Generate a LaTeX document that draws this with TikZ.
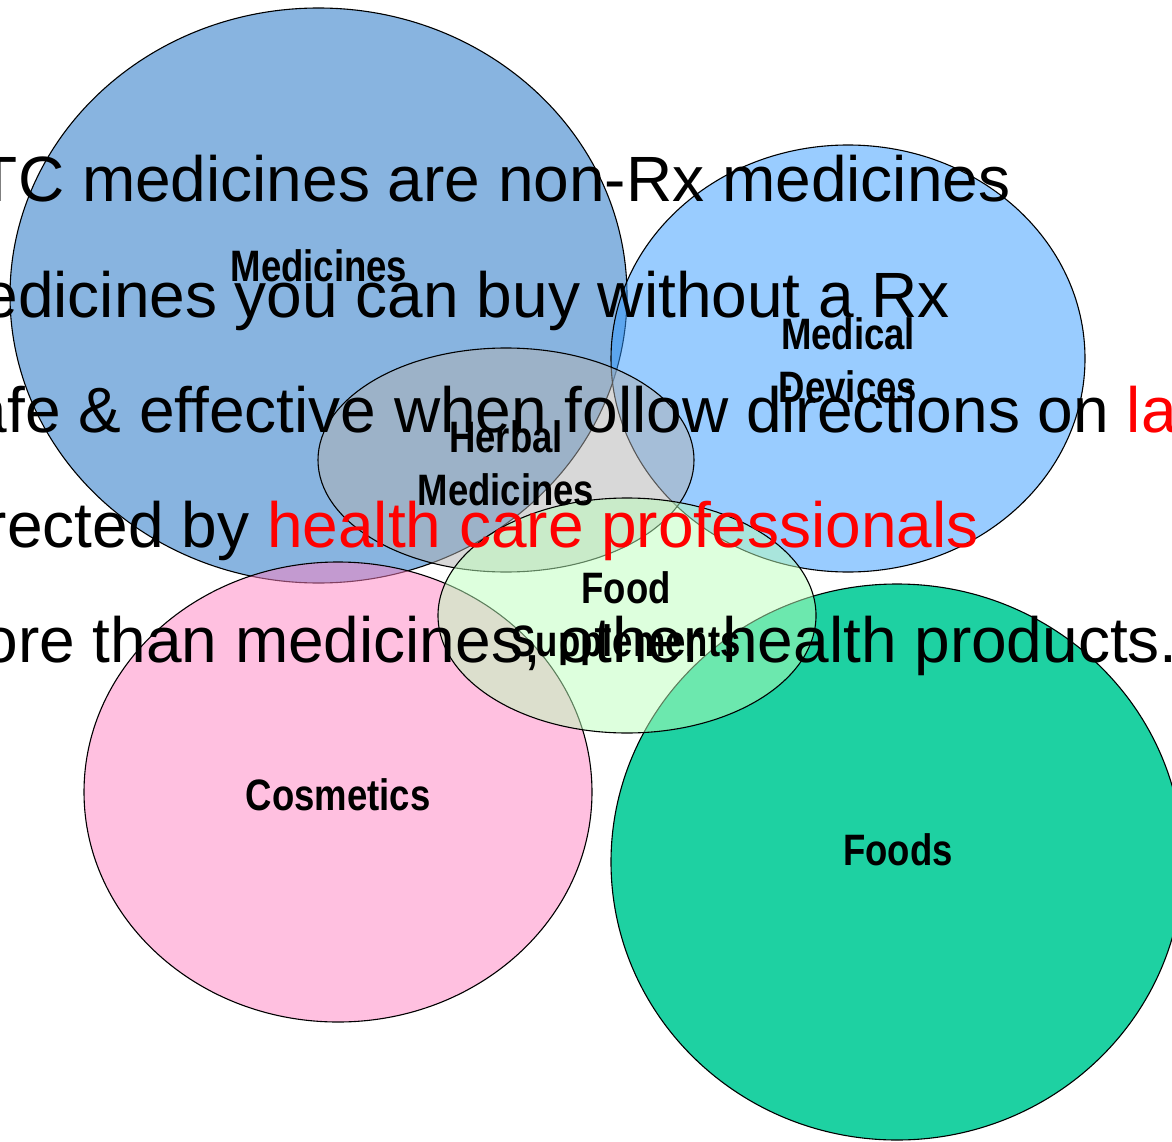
\documentclass[tikz,border=0pt]{standalone}
\usepackage{fontspec}
\setmainfont{Liberation Sans}
\newfontfamily\labelfont[FakeStretch=0.83]{Liberation Sans}
\usetikzlibrary{shapes.geometric}
\definecolor{medblue}{RGB}{17,105,193}
\definecolor{devblue}{RGB}{51,153,255}
\definecolor{cospink}{RGB}{255,129,193}
\definecolor{foodteal}{RGB}{30,209,162}
\definecolor{herbgray}{RGB}{177,177,177}
\definecolor{suppgreen}{RGB}{187,255,187}

\begin{document}
\begin{tikzpicture}[x=1pt, y=-1pt,
  set/.style={ellipse, draw, line width=1.1pt, fill opacity=0.5, inner sep=0pt},
  lab/.style={font=\labelfont\bfseries\fontsize{44}{53}\selectfont, align=center, inner sep=0pt},
  txt/.style={anchor=base west, inner sep=0pt, font=\fontsize{64}{77}\selectfont}]
\useasboundingbox (0,0) rectangle (1172,1142);
\clip (0,0) rectangle (1172,1142);
% Sets
\node[set, fill=medblue, minimum width=617pt, minimum height=575pt] (med) at (318.5,295.5) {};
\node[set, fill=devblue, minimum width=474pt, minimum height=427pt] (dev) at (848,358.5) {};
\node[set, fill=cospink, minimum width=508pt, minimum height=460pt] (cos) at (338,792) {};
\node[set, fill=foodteal, fill opacity=1, minimum width=572pt, minimum height=556pt] (foods) at (897,862) {};
\node[set, fill=herbgray, minimum width=376pt, minimum height=224pt] (herb) at (506,460) {};
\node[set, fill=suppgreen, minimum width=378pt, minimum height=235pt] (supp) at (627,615.5) {};
% Text lines
\node[txt] (l1) at (-71,202) {OTC medicines are non-Rx medicines};
\node[txt] (l2) at (-71,317) {Medicines you can buy without a Rx};
\node[txt] (l3) at (-71,432) {Safe \& effective when follow directions on \textcolor{red}{label}};
\node[txt] (l4) at (-64,547) {directed by \textcolor{red}{health care professionals}};
\node[txt] (l5) at (-71,662) {More than medicines, other health products.};
% Labels
\node[lab] (medlab) at (319,266) {Medicines};
\node[lab] (devlab) at (848,360) {Medical\\Devices};
\node[lab] (herblab) at (506,463) {Herbal\\Medicines};
\node[lab] (supplab) at (626,619) {Food\\Supplements};
\node[lab] (coslab) at (338,795) {Cosmetics};
\node[lab] (foodslab) at (898,850) {Foods};
\end{tikzpicture}
\end{document}
